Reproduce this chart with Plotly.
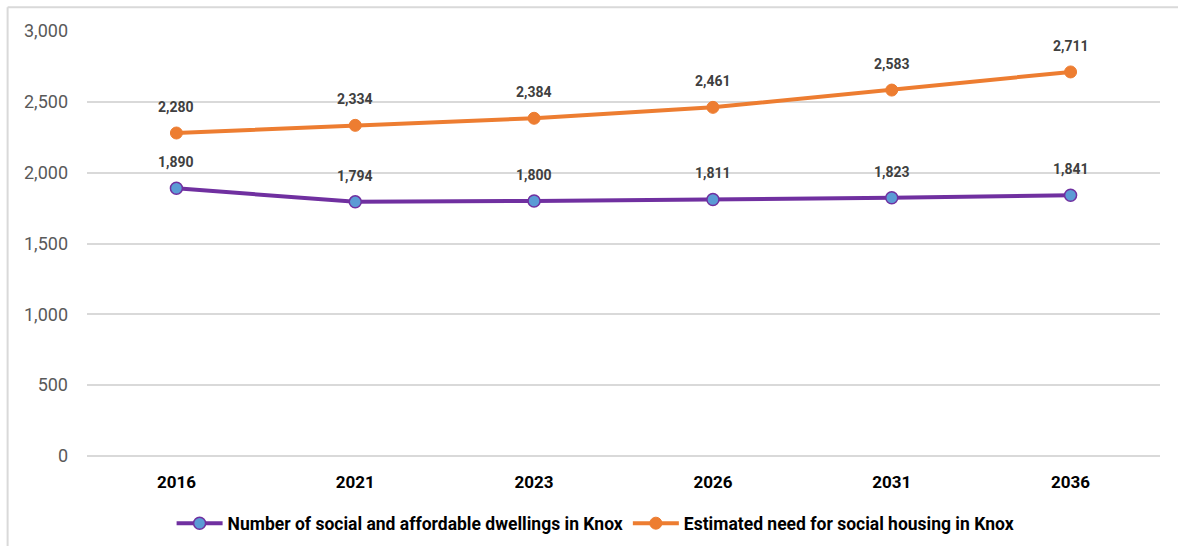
import plotly.graph_objects as go

years = ["2016", "2021", "2023", "2026", "2031", "2036"]
dwellings = [1890, 1794, 1800, 1811, 1823, 1841]
need = [2280, 2334, 2384, 2461, 2583, 2711]
y_ticks = [0, 500, 1000, 1500, 2000, 2500, 3000]

PURPLE = "#7030A0"
BLUE = "#5B9BD5"
ORANGE = "#ED7D31"
FONT = "Roboto, sans-serif"

fig = go.Figure()
fig.add_trace(go.Scatter(
    x=years, y=dwellings, mode="lines+markers",
    name="Number of social and affordable dwellings in Knox",
    line=dict(color=PURPLE, width=4),
    marker=dict(size=12, color=BLUE, line=dict(color=PURPLE, width=1.5)),
))
fig.add_trace(go.Scatter(
    x=years, y=need, mode="lines+markers",
    name="Estimated need for social housing in Knox",
    line=dict(color=ORANGE, width=4),
    marker=dict(size=12, color=ORANGE, line=dict(color=ORANGE, width=1)),
))

# value labels above each point (category index positions)
for series in (dwellings, need):
    for i, v in enumerate(series):
        fig.add_annotation(
            x=i, y=v, text=f"<b>{v:,}</b>", showarrow=False,
            yshift=26, font=dict(family=FONT, size=14, color="#404040"),
        )

# light frame along the top and left edges
fig.add_shape(type="line", xref="paper", yref="paper", x0=-0.074, x1=1.02,
              y0=1.056, y1=1.056, line=dict(color="#D9D9D9", width=2))
fig.add_shape(type="line", xref="paper", yref="paper", x0=-0.074, x1=-0.074,
              y0=1.056, y1=-0.25, line=dict(color="#D9D9D9", width=2))

fig.update_layout(
    width=1178, height=546,
    margin=dict(l=87, r=18, t=31, b=90, autoexpand=False),
    paper_bgcolor="white", plot_bgcolor="white",
    font=dict(family=FONT),
    showlegend=True,
    legend=dict(orientation="h", x=0.474, xanchor="center", y=-0.116, yanchor="top",
                font=dict(family=FONT, size=17.5, color="#000000", weight="bold"),
                itemwidth=46, tracegroupgap=0),
    xaxis=dict(
        type="category", range=[-0.5, 5.5],
        showgrid=False, zeroline=False, showline=False,
        ticks="", tickfont=dict(family=FONT, size=17, color="#000000", weight="bold"),
        ticklabelstandoff=14,
    ),
    yaxis=dict(
        range=[0, 3000], tickvals=y_ticks, tickformat=",",
        showgrid=True, gridcolor="#D9D9D9", gridwidth=1.5,
        zeroline=True, zerolinecolor="#D9D9D9", zerolinewidth=1.5,
        showline=False, ticks="",
        tickfont=dict(family=FONT, size=18, color="#595959"),
        ticklabelstandoff=18,
    ),
)

fig.write_html("out.html")
